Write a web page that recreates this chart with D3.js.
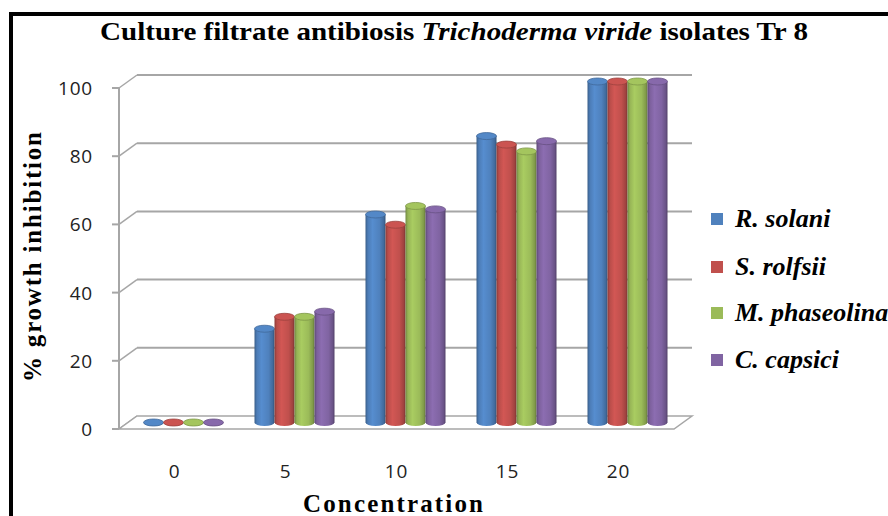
<!DOCTYPE html>
<html><head><meta charset="utf-8">
<script src="https://cdn.jsdelivr.net/npm/d3@7"></script>
<style>html,body{margin:0;padding:0;background:#fff;overflow:hidden}</style>
</head><body><svg id="c" width="888" height="516"></svg>
<script>
const categories = ["0","5","10","15","20"];
const seriesNames = ["R. solani","S. rolfsii","M. phaseolina","C. capsici"];
const rSolani   = [0, 27.5, 61, 84, 100];
const sRolfsii  = [0, 31, 58, 81.5, 100];
const mPhaseolina = [0, 31, 63.5, 79.5, 100];
const cCapsici  = [0, 32.5, 62.5, 82.5, 100];
const yTicks = [0,20,40,60,80,100];
const colors = ["#4F81BD","#C0504D","#9BBB59","#8064A2"];
const values = [rSolani, sRolfsii, mPhaseolina, cCapsici];

const svg = d3.select("#c");
const W=888,H=516;
svg.append("rect").attr("width",W).attr("height",H).attr("fill","#fff");

svg.append("line").attr("x1",11).attr("x2",11).attr("y1",12).attr("y2",H).attr("stroke","#000").attr("stroke-width",4);
svg.append("line").attr("x1",9).attr("x2",W).attr("y1",14).attr("y2",14).attr("stroke","#000").attr("stroke-width",4);

const DX=18, DY=-13;
const yFront = d3.scaleLinear().domain([0,100]).range([429,88]);
const x0 = d3.scaleBand().domain(categories).range([119,674]).paddingInner(0).paddingOuter(0);
const x1 = d3.scaleBand().domain(seriesNames).range([0,x0.bandwidth()]).paddingInner(0).paddingOuter(0.775);

const grid = "#A6A6A6";
const g = svg.append("g");
yTicks.forEach(t=>{
  const yf = yFront(t);
  if(t>0){
    g.append("line").attr("x1",119+DX).attr("x2",x0.range()[1]+DX).attr("y1",yf+DY).attr("y2",yf+DY).attr("stroke",grid).attr("stroke-width",2);
  }
  g.append("line").attr("x1",119).attr("x2",119+DX).attr("y1",yf).attr("y2",yf+DY).attr("stroke",grid).attr("stroke-width",1.5);
  g.append("line").attr("x1",112).attr("x2",119).attr("y1",yf).attr("y2",yf).attr("stroke",grid).attr("stroke-width",2);
});
const y0=yFront(0), xr=x0.range()[1];
g.append("path").attr("d",`M119,${y0} L${xr},${y0} L${xr+DX},${y0+DY} L${119+DX},${y0+DY} Z`).attr("fill","#fff").attr("stroke",grid).attr("stroke-width",1.5);
g.append("line").attr("x1",119).attr("x2",119).attr("y1",yFront(100)).attr("y2",y0).attr("stroke",grid).attr("stroke-width",2);

const defs = svg.append("defs");
colors.forEach((c,i)=>{
  const base=d3.color(c);
  const gr=defs.append("linearGradient").attr("id","g"+i).attr("x1","0").attr("x2","1").attr("y1","0").attr("y2","0");
  [[0,base.darker(0.9)],[0.12,base.darker(0.1)],[0.35,base.brighter(0.25)],[0.7,base],[0.9,base.darker(0.5)],[1,base.darker(1.2)]]
   .forEach(([o,col])=>gr.append("stop").attr("offset",o).attr("stop-color",col));
});

const yMid = v => yFront(v)+DY/2;
const bw = x1.bandwidth(), rx=bw/2, ry=3.5;
const bars = svg.append("g");
categories.forEach((cat,ci)=>{
  seriesNames.forEach((s,si)=>{
    const v = values[si][ci];
    const cx = x0(cat)+x1(s)+DX/2+rx;
    const yb = yMid(0), yt = yMid(v);
    bars.append("path")
      .attr("d",`M${cx-rx},${yt} L${cx-rx},${yb} A${rx},${ry} 0 0 0 ${cx+rx},${yb} L${cx+rx},${yt} Z`)
      .attr("fill",`url(#g${si})`);
    bars.append("ellipse").attr("cx",cx).attr("cy",yt).attr("rx",rx).attr("ry",ry)
      .attr("fill",d3.color(colors[si]).brighter(0.15)).attr("stroke",d3.color(colors[si]).darker(0.6)).attr("stroke-width",0.8);
  });
});

svg.append("g").selectAll("text").data(yTicks).join("text")
  .attr("x",93).attr("y",d=>yFront(d)+7).attr("text-anchor","end")
  .attr("font-family","Open Sans, sans-serif").attr("font-size",19).attr("letter-spacing",0.8).attr("fill","#222")
  .text(d=>d);
svg.append("g").selectAll("text").data(categories).join("text")
  .attr("x",d=>x0(d)+x0.bandwidth()/2).attr("y",478).attr("text-anchor","middle")
  .attr("font-family","Open Sans, sans-serif").attr("font-size",19).attr("letter-spacing",0.8).attr("fill","#222")
  .text(d=>d);

const title = svg.append("text").attr("x",454).attr("y",40).attr("text-anchor","middle")
  .attr("textLength",708).attr("lengthAdjust","spacingAndGlyphs")
  .attr("font-family","Liberation Serif, Times New Roman, serif").attr("font-weight","bold").attr("font-size",26).attr("fill","#000");
title.append("tspan").text("Culture filtrate antibiosis ");
title.append("tspan").attr("font-style","italic").text("Trichoderma viride");
title.append("tspan").text(" isolates Tr 8");

svg.append("text").attr("transform","translate(41,257) rotate(-90)").attr("text-anchor","middle")
  .attr("textLength",250).attr("lengthAdjust","spacing")
  .attr("font-family","Liberation Serif, serif").attr("font-weight","bold").attr("font-size",25).attr("fill","#000")
  .text("% growth inhibition");
svg.append("text").attr("x",393).attr("y",512).attr("text-anchor","middle")
  .attr("textLength",180).attr("lengthAdjust","spacing")
  .attr("font-family","Liberation Serif, serif").attr("font-weight","bold").attr("font-size",25).attr("fill","#000")
  .text("Concentration");

const legY = [219,267,313,360];
const leg = svg.append("g");
seriesNames.forEach((s,i)=>{
  leg.append("rect").attr("x",711).attr("y",legY[i]-6).attr("width",12).attr("height",12).attr("fill",colors[i]);
  leg.append("text").attr("x",735).attr("y",legY[i]+8)
    .attr("font-family","Liberation Serif, serif").attr("font-weight","bold").attr("font-style","italic").attr("font-size",26).attr("fill","#000")
    .text(s);
});
</script></body></html>
